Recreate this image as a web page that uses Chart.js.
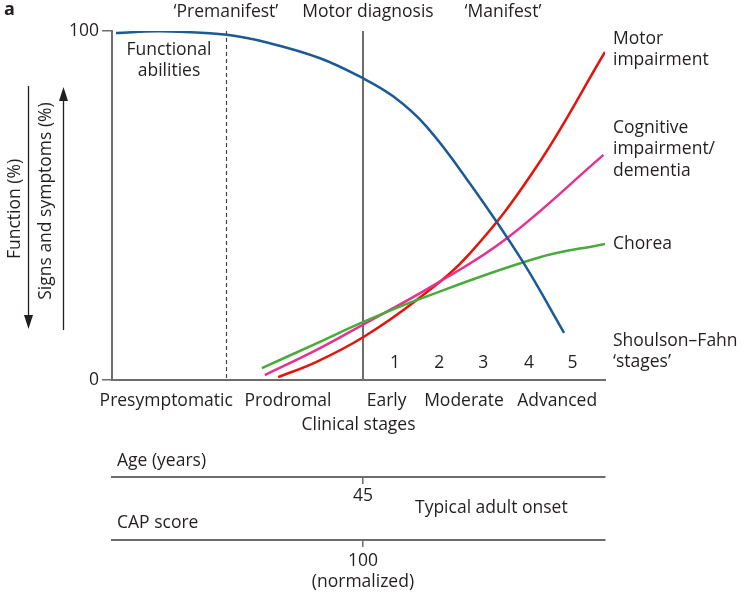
<!DOCTYPE html>
<html>
<head>
<meta charset="utf-8">
<script src="https://cdn.jsdelivr.net/npm/chart.js@4"></script>
<style>
    body { margin: 0; background: #fff; }
</style>
</head>
<body>
<canvas id="curso-dh" width="750" height="594"></canvas>
<script>
// disease course runs 0..100 along x, curves are in percent
const functionX = [0.8, 9.7, 23.3, 32, 42.2, 50.3, 57.1, 63.8, 72.6, 83.1, 91.7];
const functionY = [99.4, 99.9, 98.9, 96.5, 92.2, 86.9, 81.2, 72.6, 56.3, 34.4, 13.5];

const motorX = [33.7, 41.5, 51.1, 61.8, 72.6, 86.1, 100];
const motorY = [0.8, 5.2, 12.4, 22.9, 36.3, 61.1, 94];

const cognitiveX = [31, 41.5, 51.1, 66.5, 80.1, 99.7];
const cognitiveY = [1.4, 8.6, 16, 28.2, 40.6, 64.5];

const choreaX = [30.4, 41.5, 51.1, 61.8, 86.1, 100];
const choreaY = [3.4, 10.5, 16.7, 22.9, 34.9, 39];

const stageLabels = ['Presymptomatic', 'Prodromal', 'Early', 'Moderate', 'Advanced'];
const stageTickX = [11, 35.7, 55.7, 71.4, 90.3];

const sfStages = ['1', '2', '3', '4', '5'];
const sfStageX = [57.4, 66.4, 75.3, 84.6, 93.4];

const premanifestX = 23.1;
const diagnosisX = 50.9;
const ageTick = '45';
const capTick = ['100', '(normalized)'];

const cor = '#231f20';
const cinza = '#6d6d6d';
const fonte = { family: 'Open Sans', size: 17.5 };
const fonteCss = '17.5px "Open Sans"';

function pts(xs, ys) {
    return xs.map((v, i) => ({ x: v, y: ys[i] }));
}

function texto(ctx, linhas, x, y, align) {
    ctx.textAlign = align;
    linhas.forEach((t, i) => ctx.fillText(t, x, y + i * 21.5));
}

function seta(ctx, x, y1, y2) {
    // y2 is the tip
    const d = y2 > y1 ? 1 : -1;
    ctx.beginPath();
    ctx.moveTo(x, y1);
    ctx.lineTo(x, y2 - d * 10);
    ctx.stroke();
    ctx.beginPath();
    ctx.moveTo(x, y2);
    ctx.lineTo(x - 4.5, y2 - d * 14);
    ctx.lineTo(x + 4.5, y2 - d * 14);
    ctx.closePath();
    ctx.fill();
}

const anotacoes = {
    id: 'anotacoes',
    beforeDatasetsDraw(chart) {
        const { ctx, scales: { x, y } } = chart;
        const topo = y.getPixelForValue(100);
        const base = y.getPixelForValue(0);
        ctx.save();
        ctx.strokeStyle = '#444';
        ctx.lineWidth = 1.2;
        ctx.setLineDash([4, 3]);
        let px = Math.round(x.getPixelForValue(premanifestX)) + 0.5;
        ctx.beginPath();
        ctx.moveTo(px, topo);
        ctx.lineTo(px, base);
        ctx.stroke();
        ctx.setLineDash([]);
        ctx.strokeStyle = cinza;
        ctx.lineWidth = 2;
        px = Math.round(x.getPixelForValue(diagnosisX));
        ctx.beginPath();
        ctx.moveTo(px, topo);
        ctx.lineTo(px, base);
        ctx.stroke();
        ctx.restore();
    },
    afterDraw(chart) {
        const { ctx, chartArea, scales: { x, y } } = chart;
        ctx.save();
        ctx.fillStyle = cor;
        ctx.strokeStyle = cor;
        ctx.textBaseline = 'middle';

        ctx.font = 'bold 18px "Open Sans"';
        texto(ctx, ['a'], 4, 10, 'left');

        ctx.font = fonteCss;
        texto(ctx, ['‘Premanifest’'], x.getPixelForValue(premanifestX), 12, 'center');
        texto(ctx, ['Motor diagnosis'], x.getPixelForValue(diagnosisX) + 5, 12, 'center');
        texto(ctx, ['‘Manifest’'], x.getPixelForValue(79.3), 12, 'center');

        texto(ctx, ['Functional', 'abilities'], 169, 50, 'center');

        const dir = chartArea.right + 8;
        texto(ctx, ['Motor', 'impairment'], dir, 39, 'left');
        texto(ctx, ['Cognitive', 'impairment/', 'dementia'], dir, 128, 'left');
        texto(ctx, ['Chorea'], dir, 244, 'left');
        texto(ctx, ['Shoulson\u2013Fahn', '‘stages’'], dir, 341, 'left');

        sfStages.forEach((s, i) => {
            texto(ctx, [s], x.getPixelForValue(sfStageX[i]), y.getPixelForValue(4.9), 'center');
        });

        texto(ctx, ['Age (years)'], chartArea.left + 5, 461, 'left');
        texto(ctx, ['CAP score'], chartArea.left + 5, 523, 'left');
        texto(ctx, ['Typical adult onset'], 415, 508, 'left');

        // rotated axis captions with arrows
        ctx.save();
        ctx.translate(15, 209);
        ctx.rotate(-Math.PI / 2);
        texto(ctx, ['Function (%)'], 0, 0, 'center');
        ctx.restore();
        ctx.save();
        ctx.translate(46, 201);
        ctx.rotate(-Math.PI / 2);
        texto(ctx, ['Signs and symptoms (%)'], 0, 0, 'center');
        ctx.restore();

        ctx.lineWidth = 1.3;
        seta(ctx, 28.5, 86, 329);
        seta(ctx, 63.5, 330, 87);
        ctx.restore();
    }
};

const linha = (rotulo, dados, c) => ({
    label: rotulo,
    data: dados,
    borderColor: c,
    borderWidth: 2.5,
    pointRadius: 0,
    tension: 0.4,
    fill: false
});

new Chart(document.getElementById('curso-dh'), {
    type: 'line',
    data: {
        datasets: [
            linha('Functional abilities', pts(functionX, functionY), '#1c5a96'),
            linha('Chorea', pts(choreaX, choreaY), '#4aab3a'),
            linha('Cognitive impairment/dementia', pts(cognitiveX, cognitiveY), '#e8318c'),
            linha('Motor impairment', pts(motorX, motorY), '#e3140c')
        ]
    },
    options: {
        responsive: false,
        animation: false,
        devicePixelRatio: 1,
        layout: { padding: { left: 0, right: 145, top: 31, bottom: 0 } },
        plugins: {
            legend: { display: false },
            tooltip: { enabled: false }
        },
        scales: {
            x: {
                type: 'linear', min: 0, max: 100, position: 'bottom', weight: 0,
                afterBuildTicks: s => { s.ticks = stageTickX.map(v => ({ value: v })); },
                afterFit: s => { s.height = 97; },
                ticks: {
                    autoSkip: false, maxRotation: 0, padding: 11, font: fonte, color: cor,
                    callback: (v, i) => stageLabels[i]
                },
                grid: { display: false, drawTicks: false },
                border: { color: cinza, width: 2 },
                title: {
                    display: true, text: 'Clinical stages', font: fonte, color: cor,
                    padding: { top: 0, bottom: 41 }
                }
            },
            idade: {
                type: 'linear', min: 0, max: 100, position: 'bottom', weight: 1,
                afterBuildTicks: s => { s.ticks = [{ value: diagnosisX }]; },
                afterFit: s => { s.height = 63; },
                ticks: { autoSkip: false, maxRotation: 0, padding: 2, font: fonte, color: cor, callback: () => ageTick },
                grid: { drawOnChartArea: false, drawTicks: true, tickLength: 7, color: cinza, lineWidth: 1.5 },
                border: { color: cinza, width: 2 }
            },
            cap: {
                type: 'linear', min: 0, max: 100, position: 'bottom', weight: 2,
                afterBuildTicks: s => { s.ticks = [{ value: diagnosisX }]; },
                afterFit: s => { s.height = 54; },
                ticks: { autoSkip: false, maxRotation: 0, padding: 4, font: fonte, color: cor, callback: () => capTick },
                grid: { drawOnChartArea: false, drawTicks: true, tickLength: 7, color: cinza, lineWidth: 1.5 },
                border: { color: cinza, width: 2 }
            },
            y: {
                min: 0, max: 100,
                afterFit: s => { s.width = 112; },
                ticks: { stepSize: 100, padding: 3, font: fonte, color: cor },
                grid: { drawOnChartArea: false, tickLength: 10, color: cinza, lineWidth: 1.5 },
                border: { color: cinza, width: 2 }
            }
        }
    },
    plugins: [anotacoes]
});
</script>
</body>
</html>
